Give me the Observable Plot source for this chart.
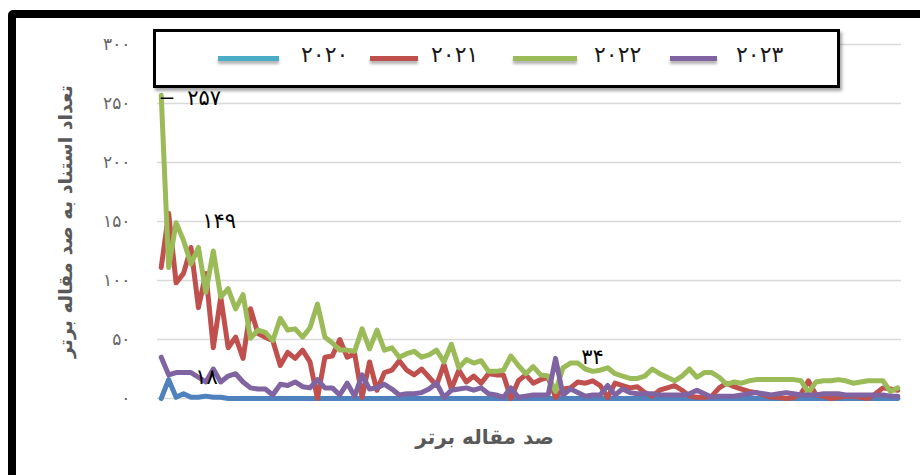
<!DOCTYPE html>
<html><head><meta charset="utf-8">
<script src="https://cdn.jsdelivr.net/npm/d3@7"></script>
<script src="https://cdn.jsdelivr.net/npm/@observablehq/plot@0.6"></script>
<style>
html,body{margin:0;padding:0;background:#fff;overflow:hidden;}
#wrap{position:relative;width:920px;height:475px;overflow:hidden;font-family:"DejaVu Sans",sans-serif;background:#fff;}
#wrap svg{position:absolute;left:0;top:0;}
#frame{position:absolute;left:8px;top:10px;width:1000px;height:600px;border:8px solid #000;border-radius:5px;box-sizing:border-box;pointer-events:none;}
#legend{position:absolute;left:153px;top:29px;width:687px;height:59px;box-sizing:border-box;border:3px solid #000;background:#fff;box-shadow:2px 3px 3px rgba(0,0,0,.35);}
.sw{position:absolute;height:5px;box-shadow:0 3px 3px rgba(0,0,0,.3);}
.lt{position:absolute;font-size:22px;line-height:22px;color:#1a1a1a;letter-spacing:2px;white-space:nowrap;}
</style></head>
<body>
<div id="wrap"></div>
<script>
// ---- data ----
const years = ["2020", "2021", "2022", "2023"];
const ranks = d3.range(1, 101);
const s2020 = [0,16,1,4,1,1,2,1,1,0, 0,0,0,0,0,0,0,0,0,0, 0,0,0,0,0,0,0,0,0,0, 0,0,0,0,0,0,0,0,0,0, 0,0,0,0,0,0,0,0,0,0, 0,0,0,0,0,0,0,0,0,0, 0,0,0,0,0,0,0,0,0,0, 0,0,0,0,0,0,0,0,0,0, 0,0,0,0,0,0,0,0,0,0, 0,0,0,0,0,0,0,0,0,0];
const s2021 = [111,157,98,106,128,77,106,43,86,43,
 52,34,76,55,52,49,28,39,34,41,
 31,0,35,36,50,35,38,1,31,7,
 22,24,32,24,20,25,18,11,29,8,
 24,14,19,13,21,20,20,0,15,20,
 13,16,18,1,8,9,14,13,15,11,
 1,13,11,9,10,5,2,7,9,11,
 7,2,1,1,2,9,13,10,8,6,
 5,3,1,1,0,1,4,15,3,2,
 0,1,2,2,1,0,4,9,8,7];
const s2022 = [257,111,149,134,114,128,90,125,86,93,
 76,88,51,58,56,49,68,58,59,52,
 60,80,52,47,41,41,40,59,42,58,
 41,43,35,38,40,35,37,41,31,46,
 26,33,30,32,23,23,24,36,28,21,
 27,20,19,6,26,30,30,25,23,24,
 26,21,19,17,17,19,25,21,18,15,
 19,25,18,22,22,18,12,14,13,15,
 16,16,16,16,16,16,15,5,14,15,
 15,16,15,13,14,15,15,15,6,9];
const s2023 = [35,20,22,22,22,18,14,25,14,19,
 21,14,9,8,8,3,12,11,14,10,
 9,16,9,9,3,13,2,20,8,9,
 12,8,3,4,4,5,8,13,1,7,
 8,9,7,9,4,3,1,9,1,2,
 3,3,3,34,3,8,5,2,3,3,
 11,3,8,5,4,4,4,3,3,3,
 3,4,7,4,1,2,2,2,3,4,
 5,4,3,4,5,4,3,3,3,4,
 4,4,3,3,3,3,3,3,2,2];
const yTicks = [0, 50, 100, 150, 200, 250, 300];
const yTitle = "تعداد استناد به صد مقاله برتر";
const xTitle = "صد مقاله برتر";
// labelled points: [year, rank]
const labelled = [["2022", 1], ["2022", 3], ["2023", 6], ["2023", 54]];

// ---- styling ----
const lineColors = ["#4F81BD", "#C0504D", "#9BBB59", "#8064A2"];
const swatchColors = ["#4BACC6", "#C0504D", "#9BBB59", "#8064A2"];
const labelOffsets = [[43, 3], [43, -1], [8, 0], [37, -1]];
// legend layout: [swatch x, swatch width, text x] in page px
const legendLayout = [[218, 61, 301], [370, 48, 431], [513, 64, 594], [670, 47, 736]];

const fa = v => String(v).replace(/\d/g, c => "۰۱۲۳۴۵۶۷۸۹"[+c]);
const series = [s2020, s2021, s2022, s2023];
const rows = years.flatMap((y, k) => ranks.map((r, i) => ({year: y, rank: r, value: series[k][i]})));
const pts = labelled.map(([y, r]) => ({year: y, rank: r, value: series[years.indexOf(y)][r - 1]}));

const labelMarks = pts.map((p, k) => Plot.text([p], {
  x: "rank", y: "value", text: d => fa(d.value), dx: labelOffsets[k][0], dy: labelOffsets[k][1],
  fill: "#000", fontSize: 21, textAnchor: "middle", lineAnchor: "middle"
}));

const chart = Plot.plot({
  width: 920, height: 475,
  marginLeft: 157, marginRight: 19, marginTop: 44, marginBottom: 77,
  style: {fontFamily: "DejaVu Sans", background: "transparent", overflow: "visible"},
  x: {domain: [0.5, 100.5], axis: null},
  y: {domain: [0, 300], axis: null},
  color: {domain: years, range: lineColors},
  marks: [
    Plot.ruleY(yTicks, {stroke: "#d9d9d9", strokeWidth: 1.6}),
    Plot.axisY(yTicks, {tickSize: 0, tickPadding: 27, tickFormat: fa, fontSize: 17, fill: "#666", label: null}),
    Plot.text([yTitle], {frameAnchor: "left", rotate: -90, dx: -92, fontSize: 19, fontWeight: "bold", fill: "#595959", textAnchor: "middle", lineAnchor: "middle"}),
    Plot.text([xTitle], {frameAnchor: "bottom", dx: -45, dy: 39, fontSize: 20, fontWeight: "bold", fill: "#595959", textAnchor: "middle", lineAnchor: "middle"}),
    Plot.line(rows, {x: "rank", y: "value", z: "year", stroke: "year", strokeWidth: 5, strokeLinejoin: "round", strokeLinecap: "round"}),
    Plot.ruleY([pts[0]], {x1: d => d.rank, x2: d => d.rank + 1.7, y: "value", dy: 3, stroke: "#000", strokeWidth: 1.5}),
    ...labelMarks
  ]
});
const wrap = document.getElementById("wrap");
wrap.appendChild(chart);
chart.querySelectorAll('g[aria-label="y-axis tick label"] text').forEach(t => t.setAttribute("letter-spacing", "4"));

// legend
const leg = document.createElement("div");
leg.id = "legend";
years.forEach((y, k) => {
  const [sx, sw, tx] = legendLayout[k];
  const s = document.createElement("div");
  s.className = "sw";
  s.style.left = (sx - 156) + "px"; s.style.top = (58 - 32 - 2.5) + "px"; s.style.width = sw + "px";
  s.style.background = swatchColors[k];
  leg.appendChild(s);
  const t = document.createElement("div");
  t.className = "lt";
  t.style.left = (tx - 156) + "px"; t.style.top = (55 - 32 - 11) + "px";
  t.textContent = fa(y);
  leg.appendChild(t);
});
wrap.appendChild(leg);
const fr = document.createElement("div");
fr.id = "frame";
wrap.appendChild(fr);
</script>
</body></html>
